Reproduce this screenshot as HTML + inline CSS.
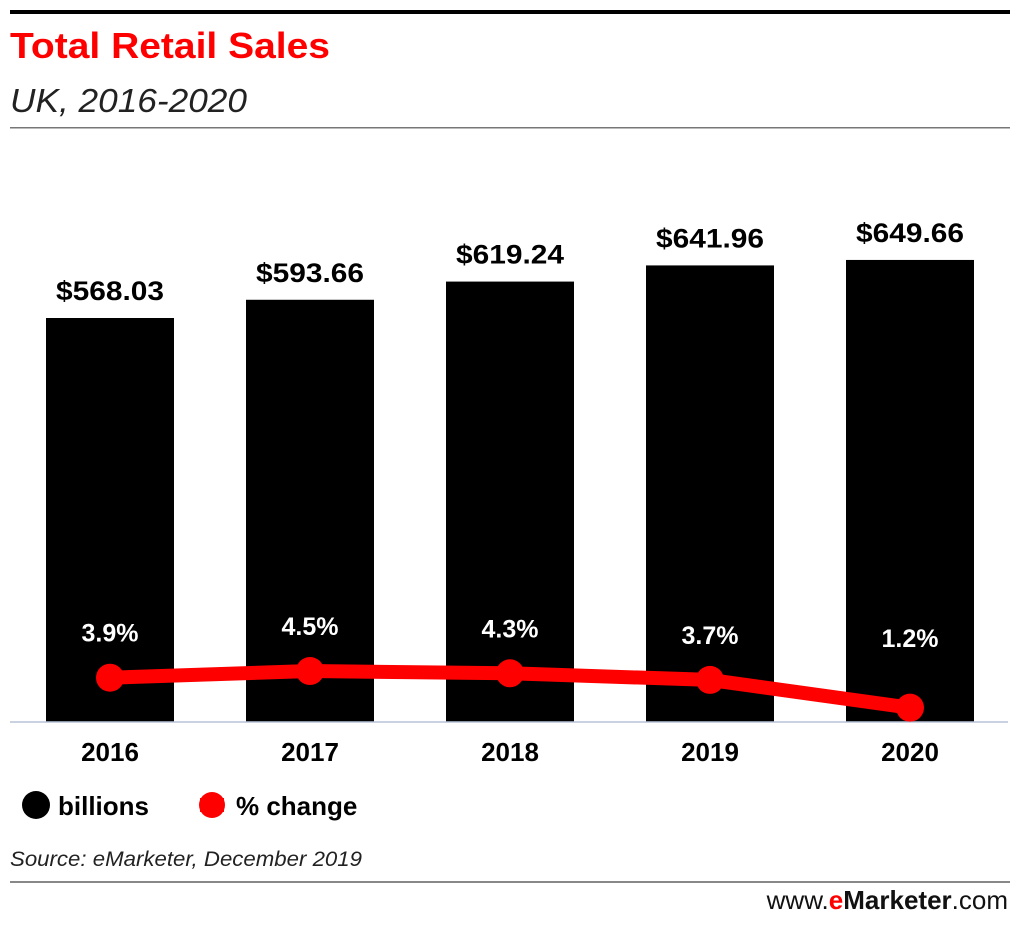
<!DOCTYPE html>
<html><head><meta charset="utf-8"><style>
body{margin:0;background:#fff;width:1020px;height:920px;overflow:hidden;font-family:"Liberation Sans",sans-serif}
svg text{font-family:"Liberation Sans",sans-serif}
</style></head><body>
<svg id="chart" width="1020" height="920" xmlns="http://www.w3.org/2000/svg">
<rect x="10" y="10" width="1000" height="4" fill="#000"/>
<text x="10" y="58" font-size="36" font-weight="bold" fill="#f00" textLength="320" lengthAdjust="spacingAndGlyphs">Total Retail Sales</text>
<text x="10" y="112" font-size="33" font-style="italic" fill="#222" textLength="237" lengthAdjust="spacingAndGlyphs">UK, 2016-2020</text>
<rect x="10" y="127" width="1000" height="1.5" fill="#777"/>
<g id="bars"></g>
<line x1="10" y1="722" x2="1008" y2="722" stroke="#b8c4d8" stroke-width="1.5"/>
<g id="line"></g>
<g id="labels"></g>
<circle cx="36" cy="805" r="14" fill="#000"/>
<text x="58" y="815" font-size="26" font-weight="bold" fill="#000">billions</text>
<line x1="200" y1="805" x2="224" y2="805" stroke="#f00" stroke-width="14"/>
<circle cx="212" cy="805" r="13" fill="#f00"/>
<text x="236" y="815" font-size="26" font-weight="bold" fill="#000">% change</text>
<text x="10" y="866" font-size="21" font-style="italic" fill="#222" textLength="352" lengthAdjust="spacingAndGlyphs">Source: eMarketer, December 2019</text>
<rect x="10" y="881" width="1000" height="2" fill="#888"/>
<text x="1008" y="909" font-size="26" text-anchor="end" fill="#111">www.<tspan fill="#f00" font-weight="bold">e</tspan><tspan font-weight="bold">Marketer</tspan>.com</text>
</svg>
<script>
const categories=["2016","2017","2018","2019","2020"];
const salesValues=[568.03,593.66,619.24,641.96,649.66];
const salesLabels=["$568.03","$593.66","$619.24","$641.96","$649.66"];
const pctValues=[3.9,4.5,4.3,3.7,1.2];
const pctLabels=["3.9%","4.5%","4.3%","3.7%","1.2%"];
const NS="http://www.w3.org/2000/svg";
const base=722,left=10,step=200,barW=128;
const xC=i=>left+100+i*step;
const yBar=v=>base-v*(404/568.03);
const yPct=v=>base-1-v*11.1;
function mk(tag,attrs,parent){const e=document.createElementNS(NS,tag);for(const k in attrs)e.setAttribute(k,attrs[k]);document.getElementById(parent).appendChild(e);return e;}
categories.forEach((c,i)=>{
  const r=mk('rect',{x:xC(i)-barW/2,y:yBar(salesValues[i]),width:barW,height:base-yBar(salesValues[i]),fill:'#000'},'bars');
  
  
  const t=mk('text',{x:xC(i),y:yBar(salesValues[i])-18,'font-size':27,'font-weight':'bold','text-anchor':'middle',fill:'#000',textLength:108,lengthAdjust:'spacingAndGlyphs'},'labels');
  t.textContent=salesLabels[i];
  
  
  const x=mk('text',{x:xC(i),y:761,'font-size':26,'font-weight':'bold','text-anchor':'middle',fill:'#000'},'labels');
  x.textContent=c;
  
  
  const p=mk('text',{x:xC(i),y:Math.min(yPct(pctValues[i])-36,647),'font-size':25,'font-weight':'bold','text-anchor':'middle',fill:'#fff'},'labels');
  p.textContent=pctLabels[i];
  
  
});
const pl=mk('polyline',{points:pctValues.map((v,i)=>xC(i)+','+yPct(v)).join(' '),fill:'none',stroke:'#f00','stroke-width':14,'stroke-linejoin':'round'},'line');


pctValues.forEach((v,i)=>{
  const c=mk('circle',{cx:xC(i),cy:yPct(v),r:14,fill:'#f00'},'line');
  
  
});
</script>
</body></html>
